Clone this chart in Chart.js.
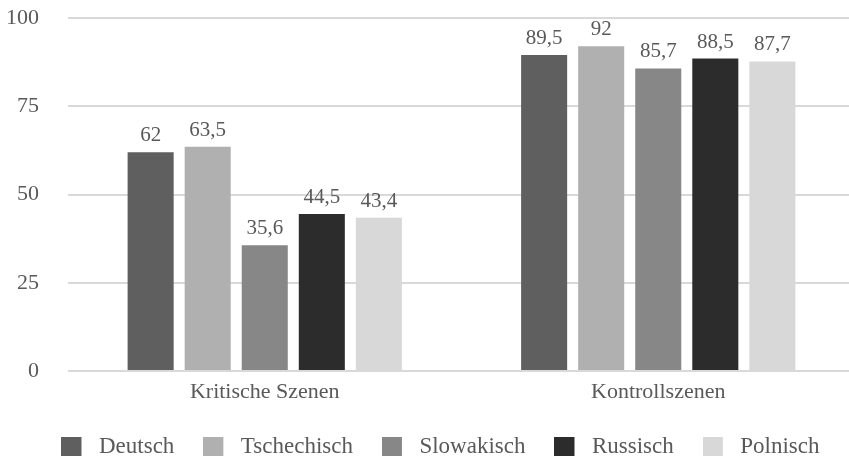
<!DOCTYPE html>
<html>
<head>
<meta charset="utf-8">
<script src="https://cdn.jsdelivr.net/npm/chart.js@4/dist/chart.umd.min.js"></script>
<style>
  html, body { margin: 0; padding: 0; background: #ffffff; overflow: hidden; }
  #wrap { width: 855px; height: 456px; position: relative; }
</style>
</head>
<body>
<div id="wrap"><canvas id="c"></canvas></div>
<script>
// Categories and series values (percent)
const categories = ['Kritische Szenen', 'Kontrollszenen'];
const deutsch     = [62, 89.5];
const tschechisch = [63.5, 92];
const slowakisch  = [35.6, 85.7];
const russisch    = [44.5, 88.5];
const polnisch    = [43.4, 87.7];
const seriesNames = ['Deutsch', 'Tschechisch', 'Slowakisch', 'Russisch', 'Polnisch'];
const yTicks = [0, 25, 50, 75, 100];

const seriesValues = [deutsch, tschechisch, slowakisch, russisch, polnisch];
const seriesColors = ['#5f5f5f', '#b0b0b0', '#878787', '#2c2c2c', '#d8d8d8'];

const FONT = 'Liberation Serif';
const TEXT = '#595959';

// Legend swatch: a 20px square on the left of a slightly wider transparent tile,
// which leaves a wider gap before the label text
function swatch(color) {
  const c = document.createElement('canvas');
  c.width = 26; c.height = 20;
  const g = c.getContext('2d');
  g.fillStyle = color;
  g.fillRect(0, 0, 20, 20);
  return c;
}
const swatches = seriesColors.map(swatch);

// Writes each bar's value above it, German decimal comma
const valueLabels = {
  id: 'valueLabels',
  afterDatasetsDraw(chart) {
    const ctx = chart.ctx;
    ctx.save();
    ctx.font = '21px "' + FONT + '"';
    ctx.fillStyle = TEXT;
    ctx.textAlign = 'center';
    ctx.textBaseline = 'alphabetic';
    chart.data.datasets.forEach((ds, i) => {
      const meta = chart.getDatasetMeta(i);
      meta.data.forEach((bar, j) => {
        const txt = String(ds.data[j]).replace('.', ',');
        ctx.fillText(txt, bar.x, bar.y - 11);
      });
    });
    ctx.restore();
  }
};

// Nudges the legend row a little to the right
const legendShift = {
  id: 'legendShift',
  afterLayout(chart) {
    if (chart.legend) { chart.legend.left += 13; chart.legend.right += 13; }
  }
};

new Chart(document.getElementById('c'), {
  type: 'bar',
  data: {
    labels: categories,
    datasets: seriesNames.map((name, i) => ({
      label: name,
      data: seriesValues[i],
      backgroundColor: seriesColors[i],
      borderWidth: 0,
      categoryPercentage: 0.725,
      barPercentage: 0.807
    }))
  },
  options: {
    responsive: true,
    maintainAspectRatio: false,
    animation: false,
    layout: { padding: { top: 18, right: 0, left: 0, bottom: -12 } },
    plugins: {
      tooltip: { enabled: false },
      legend: {
        position: 'bottom',
        labels: {
          font: { family: FONT, size: 23 },
          color: TEXT,
          usePointStyle: true,
          pointStyleWidth: 26,
          boxHeight: 20,
          padding: 29,
          generateLabels(chart) {
            const items = Chart.defaults.plugins.legend.labels.generateLabels(chart);
            items.forEach((it, i) => { it.pointStyle = swatches[i]; it.lineWidth = 0; });
            return items;
          }
        }
      }
    },
    scales: {
      x: {
        afterFit(axis) { axis.height = 35; },
        grid: { display: false, drawTicks: false },
        border: { display: false },
        ticks: { font: { family: FONT, size: 22 }, color: TEXT, padding: 8 }
      },
      y: {
        min: 0,
        max: 100,
        afterBuildTicks(axis) { axis.ticks = yTicks.map(v => ({ value: v })); },
        afterFit(axis) { axis.width = 68; },
        grid: { color: '#d9d9d9', lineWidth: 2, drawTicks: true, tickLength: 29, tickColor: 'rgba(0,0,0,0)' },
        border: { display: false },
        ticks: { font: { family: FONT, size: 22 }, color: TEXT, padding: 0 }
      }
    }
  },
  plugins: [valueLabels, legendShift]
});
</script>
</body>
</html>
